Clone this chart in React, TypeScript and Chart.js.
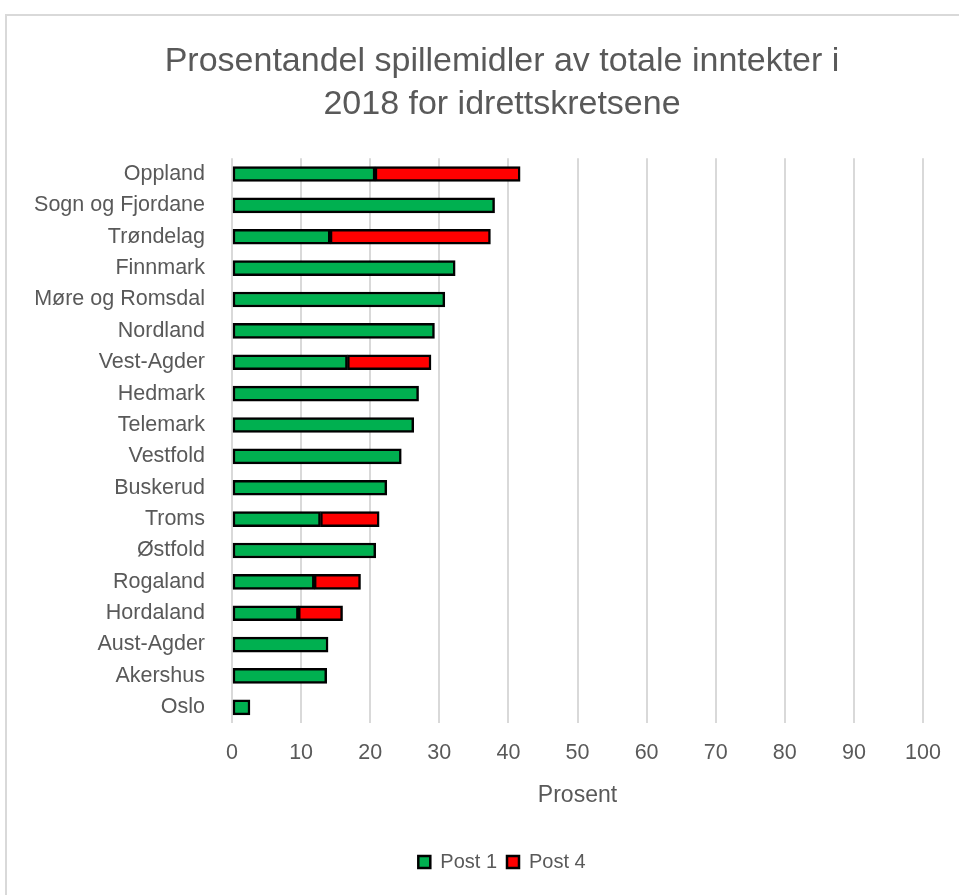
import React, { useEffect, useRef } from "react";
import { Chart, registerables } from "chart.js";

Chart.register(...registerables);

const categories = [
  "Oppland", "Sogn og Fjordane", "Trøndelag", "Finnmark", "Møre og Romsdal", "Nordland",
  "Vest-Agder", "Hedmark", "Telemark", "Vestfold", "Buskerud", "Troms", "Østfold",
  "Rogaland", "Hordaland", "Aust-Agder", "Akershus", "Oslo",
];
const post1 = [20.7, 38.0, 14.2, 32.3, 30.8, 29.3, 16.7, 27.0, 26.3, 24.5, 22.4, 12.8, 20.8, 11.9, 9.6, 13.9, 13.7, 2.6];
const post4 = [21.0, 0, 23.2, 0, 0, 0, 12.1, 0, 0, 0, 0, 8.5, 0, 6.7, 6.4, 0, 0, 0];
const xTicks = [0, 10, 20, 30, 40, 50, 60, 70, 80, 90, 100];
const titleLines = ["Prosentandel spillemidler av totale inntekter i", "2018 for idrettskretsene"];
const xTitle = "Prosent";
const seriesNames = ["Post 1", "Post 4"];

const FONT = "'Liberation Sans', Arial, sans-serif";
const TEXT = "#595959";

const frame = {
  id: "frame",
  beforeDraw(chart: any) {
    const ctx = chart.ctx;
    ctx.save();
    ctx.fillStyle = "#ffffff";
    ctx.fillRect(0, 0, chart.width, chart.height);
    ctx.strokeStyle = "#d9d9d9";
    ctx.lineWidth = 2;
    ctx.strokeRect(6, 15, chart.width + 20, chart.height + 20);
    ctx.restore();
  },
};

export default function App() {
  const ref = useRef<HTMLCanvasElement>(null);
  useEffect(() => {
    if (!ref.current) return;
    const chart = new Chart(ref.current, {
      type: "bar",
      data: {
        labels: categories,
        datasets: [
          {
            label: seriesNames[0],
            data: post1,
            backgroundColor: "#00b050",
            borderColor: "#000000",
            borderWidth: 2.5,
            borderSkipped: false,
            barThickness: 15,
          },
          {
            label: seriesNames[1],
            data: post4,
            backgroundColor: "#ff0000",
            borderColor: "#000000",
            borderWidth: 2.5,
            borderSkipped: false,
            barThickness: 15,
          },
        ],
      },
      options: {
        indexAxis: "y",
        animation: false,
        responsive: false,
        layout: { padding: { left: 0, right: -45, top: 0, bottom: 13 } },
        scales: {
          x: {
            stacked: true,
            min: 0,
            max: 100,
            afterBuildTicks: (s: any) => { s.ticks = xTicks.map((v) => ({ value: v })); },
            afterFit: (s: any) => { s.height = 119; },
            grid: { color: "#d9d9d9", lineWidth: 2, drawTicks: false },
            border: { display: false },
            ticks: { color: TEXT, font: { family: FONT, size: 21.5 }, padding: 17 },
            title: { display: true, text: xTitle, color: TEXT, font: { family: FONT, size: 23 }, padding: { top: 10, bottom: 33 } },
          },
          y: {
            stacked: true,
            grid: { display: false, drawTicks: false },
            border: { display: false },
            ticks: { color: TEXT, font: { family: FONT, size: 21.5 }, padding: 27, autoSkip: false },
            afterFit: (s: any) => { s.width = 232; },
          },
          yRightSpace: {
            type: "linear",
            position: "right",
            display: true,
            grid: { display: false, drawTicks: false },
            border: { display: false },
            ticks: { display: false },
            afterFit: (s: any) => { s.width = 81; },
          },
        },
        plugins: {
          title: {
            display: true,
            text: titleLines,
            color: TEXT,
            font: { family: FONT, size: 34, weight: "normal", lineHeight: 1.27 },
            padding: { top: 40, bottom: 32 },
          },
          legend: {
            position: "bottom",
            labels: {
              color: TEXT,
              font: { family: FONT, size: 20 },
              boxWidth: 12,
              boxHeight: 12,
              padding: 10,
            },
          },
          tooltip: { enabled: false },
        },
      },
      plugins: [frame],
    });
    return () => chart.destroy();
  }, []);
  return (
    <div style={{ position: "absolute", left: 0, top: 0 }}>
      <canvas ref={ref} width={959} height={895} style={{ display: "block" }} />
    </div>
  );
}
